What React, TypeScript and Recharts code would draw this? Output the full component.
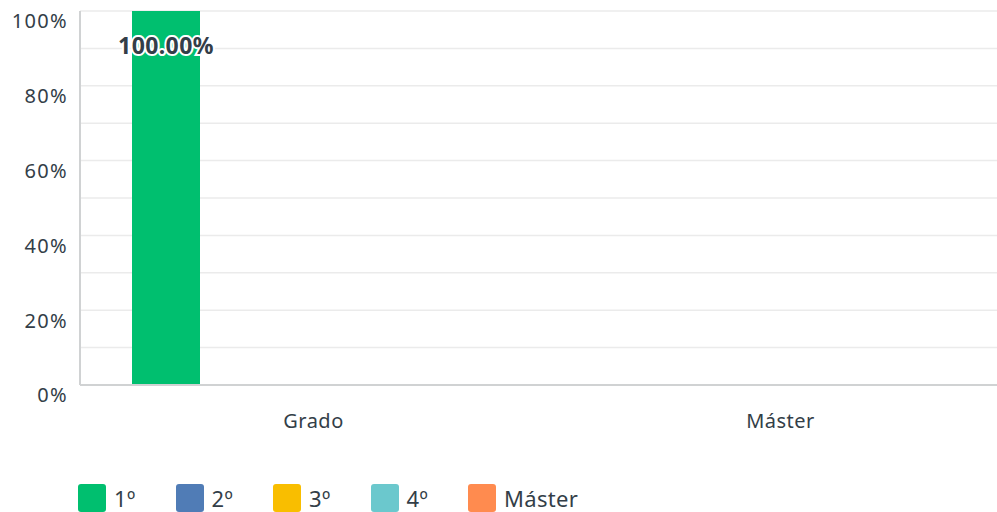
import React from 'react';
import { BarChart, Bar, XAxis, YAxis, CartesianGrid, LabelList } from 'recharts';

const categories = ['Grado', 'Máster'];
const seriesNames = ['1º', '2º', '3º', '4º', 'Máster'];
const seriesColors = ['#00bf6f', '#507cb6', '#f9be00', '#6bc8cd', '#ff8b4f'];
const values1 = [100, 0];
const values2 = [0, 0];
const values3 = [0, 0];
const values4 = [0, 0];
const values5 = [0, 0];
const yTicks = [0, 10, 20, 30, 40, 50, 60, 70, 80, 90, 100];

const allValues = [values1, values2, values3, values4, values5];
const data = categories.map((name, i) => {
  const row: any = { name };
  allValues.forEach((vals, s) => {
    row['s' + s] = vals[i];
  });
  return row;
});

const FONT = '"Noto Sans", sans-serif';
const TEXT = '#333e48';

const YTick = (props: any) => {
  const { x, y, payload } = props;
  if (payload.value % 20 !== 0) return null;
  return (
    <text x={x} y={y} dy={12} textAnchor="end" dominantBaseline="middle" fill={TEXT} fontSize={20} letterSpacing={1.3} fontFamily={FONT}>
      {payload.value + '%'}
    </text>
  );
};

const XTick = (props: any) => {
  const { x, y, payload } = props;
  return (
    <text x={x} y={y} dy={36} textAnchor="middle" dominantBaseline="middle" fill={TEXT} fontSize={20} letterSpacing={0.5} fontFamily={FONT}>
      {payload.value}
    </text>
  );
};

const ValueLabel = (props: any) => {
  const { x, y, width, value } = props;
  if (!value) return null;
  return (
    <text
      x={x + width / 2}
      y={y + 37}
      textAnchor="middle"
      dominantBaseline="middle"
      fill={TEXT}
      stroke="#fff"
      strokeWidth={4}
      paintOrder="stroke"
      fontSize={23}
      letterSpacing={0.4}
      fontWeight={700}
      fontFamily={FONT}
    >
      {value.toFixed(2) + '%'}
    </text>
  );
};

export default function App() {
  return (
    <div style={{ position: 'absolute', left: 0, top: 0, width: 997, height: 512, overflow: 'hidden', background: '#fff' }}>
      <BarChart
        width={1020}
        height={440}
        data={data}
        margin={{ top: 11, right: 6, left: 0, bottom: 0 }}
        barSize={68}
        barGap={6}
      >
        <CartesianGrid vertical={false} stroke="#ebebeb" strokeWidth={1.5} />
        <XAxis
          dataKey="name"
          height={55}
          axisLine={{ stroke: '#d0d2d3', strokeWidth: 2 }}
          tickLine={false}
          tickSize={0}
          tick={<XTick />}
        />
        <YAxis
          width={80}
          domain={[0, 100]}
          ticks={yTicks}
          interval={0}
          axisLine={{ stroke: '#d0d2d3', strokeWidth: 2 }}
          tickLine={false}
          tickSize={0}
          tickMargin={12}
          tick={<YTick />}
        />
        {seriesNames.map((n, s) => (
          <Bar key={n} dataKey={'s' + s} name={n} fill={seriesColors[s]} isAnimationActive={false}>
            <LabelList dataKey={'s' + s} content={<ValueLabel />} />
          </Bar>
        ))}
      </BarChart>
      <div style={{ position: 'absolute', left: 78, top: 484, display: 'flex', fontFamily: FONT }}>
        {seriesNames.map((n, s) => (
          <div key={n} style={{ display: 'flex', alignItems: 'center', width: s < seriesNames.length - 1 ? 97.5 : 'auto', flexShrink: 0 }}>
            <div style={{ width: 28, height: 28, borderRadius: 3, background: seriesColors[s], flexShrink: 0 }} />
            <span style={{ marginLeft: 8, fontSize: 22, lineHeight: '22px', letterSpacing: 0.3, color: TEXT, whiteSpace: 'nowrap' }}>{n}</span>
          </div>
        ))}
      </div>
    </div>
  );
}
